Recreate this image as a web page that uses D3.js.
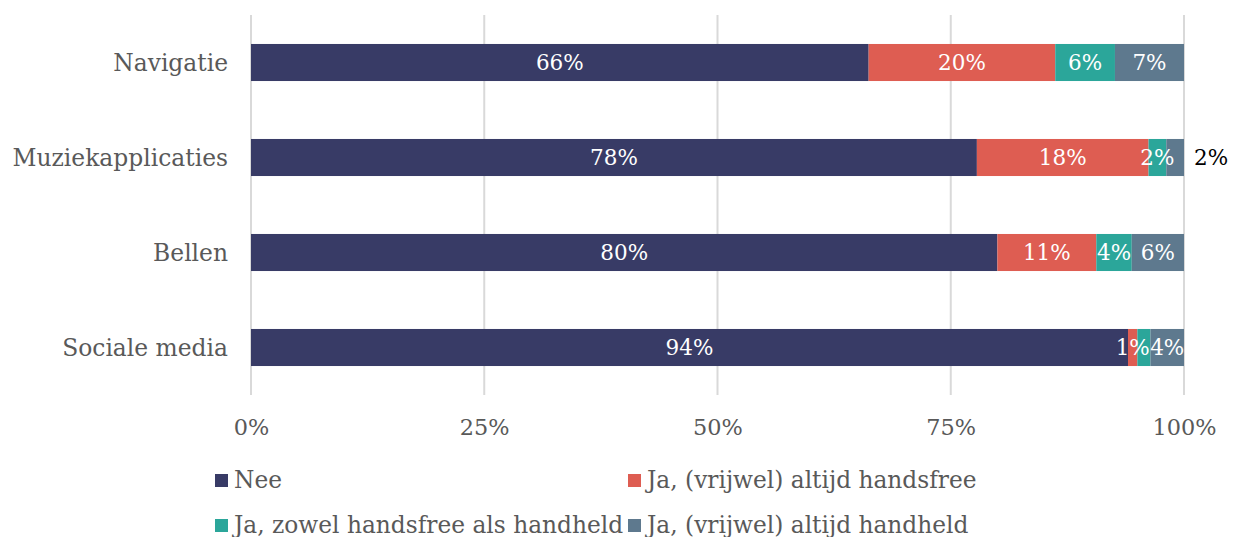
<!DOCTYPE html>
<html>
<head>
<meta charset="utf-8">
<script src="https://cdn.jsdelivr.net/npm/d3@7"></script>
<style>
body { margin: 0; background: #fff; }
text { font-family: "DejaVu Serif", serif; }
</style>
</head>
<body>
<div class="graphic"></div>
<script>
var width = 1233;
var height = 537;

// data
var categories = ["Navigatie", "Muziekapplicaties", "Bellen", "Sociale media"];
var seriesNames = ["Nee", "Ja, (vrijwel) altijd handsfree", "Ja, zowel handsfree als handheld", "Ja, (vrijwel) altijd handheld"];
var nee       = [66.2, 77.8, 80.0, 94.0];
var handsfree = [20.0, 18.4, 10.6, 1.0];
var beide     = [6.4, 1.9, 3.8, 1.4];
var handheld  = [7.4, 1.9, 5.6, 3.6];
var xTicks = [0, 25, 50, 75, 100];

var colors = ["#383b66", "#de5d52", "#2ba69a", "#5e798e"];

var rows = categories.map(function(c, i){
	return {cat: c, Nee: nee[i], hf: handsfree[i], both: beide[i], hh: handheld[i]};
});
var keys = ["Nee", "hf", "both", "hh"];

var svg = d3.select("div.graphic").append("svg")
	.attr("width", width)
	.attr("height", height);

var x = d3.scaleLinear().domain([0, 100]).range([251, 1184]);
var y = d3.scaleBand().domain(categories).range([15, 395])
	.paddingInner(0.61).paddingOuter(0.305);

// gridlines
svg.append("g").selectAll("line")
	.data(xTicks)
	.enter()
	.append("line")
	.attr("x1", function(d){ return x(d); })
	.attr("x2", function(d){ return x(d); })
	.attr("y1", 15)
	.attr("y2", 395)
	.attr("stroke", "#d9d9d9")
	.attr("stroke-width", 2);

var stack = d3.stack().keys(keys)(rows);

var layers = svg.append("g").selectAll("g")
	.data(stack)
	.enter()
	.append("g")
	.attr("fill", function(d, i){ return colors[i]; });

layers.selectAll("rect")
	.data(function(d){ return d; })
	.enter()
	.append("rect")
	.attr("x", function(d){ return x(d[0]); })
	.attr("width", function(d){ return x(d[1]) - x(d[0]); })
	.attr("y", function(d){ return y(d.data.cat); })
	.attr("height", y.bandwidth());

// data labels, skip ones that would collide with an earlier one
var labels = svg.append("g");
categories.forEach(function(c, ci){
	var placed = [];
	stack.forEach(function(layer, si){
		var d = layer[ci];
		var val = d[1] - d[0];
		var w = x(d[1]) - x(d[0]);
		var cx = (x(d[0]) + x(d[1])) / 2;
		var txt = Math.round(val) + "%";
		var fill = "#fff";
		var anchor = "middle";
		var outside = (si == stack.length - 1 && w < 25);
		if (outside){
			cx = x(100) + 10;
			fill = "#000";
			anchor = "start";
		}
		var t = labels.append("text")
			.attr("x", cx)
			.attr("y", y(c) + y.bandwidth() / 2)
			.attr("dy", "0.36em")
			.attr("text-anchor", anchor)
			.attr("fill", fill)
			.style("font-size", "21.5px")
			.text(txt);
		var b = t.node().getBBox();
		var hit = placed.some(function(p){ return b.x < p.x + p.width - 2 && p.x < b.x + b.width - 2; });
		if (hit) { t.remove(); return; }
		placed.push(b);
	});
});

// category axis
svg.append("g").selectAll("text")
	.data(categories)
	.enter()
	.append("text")
	.attr("x", 228)
	.attr("y", function(d){ return y(d) + y.bandwidth() / 2; })
	.attr("dy", "0.36em")
	.attr("text-anchor", "end")
	.attr("fill", "#595959")
	.style("font-size", "23.4px")
	.text(function(d){ return d; });

// value axis
var xAxis = svg.append("g")
	.attr("transform", "translate(0,395)")
	.call(d3.axisBottom(x).tickValues(xTicks).tickSize(0).tickPadding(24)
		.tickFormat(function(d){ return d + "%"; }));
xAxis.select(".domain").remove();
xAxis.selectAll("text")
	.attr("fill", "#595959")
	.style("font-size", "22.4px")
	.style("font-family", "DejaVu Serif, serif");

// legend
var legendPos = [[215, 480], [628, 480], [215, 525], [628, 525]];
var legend = svg.append("g").selectAll("g")
	.data(seriesNames)
	.enter()
	.append("g")
	.attr("transform", function(d, i){ return "translate(" + legendPos[i][0] + "," + legendPos[i][1] + ")"; });
legend.append("rect")
	.attr("x", 0)
	.attr("y", -6)
	.attr("width", 13)
	.attr("height", 13)
	.attr("fill", function(d, i){ return colors[i]; });
legend.append("text")
	.attr("x", 19)
	.attr("dy", "0.36em")
	.attr("fill", "#595959")
	.style("font-size", "23.3px")
	.text(function(d){ return d; });
</script>
</body>
</html>
